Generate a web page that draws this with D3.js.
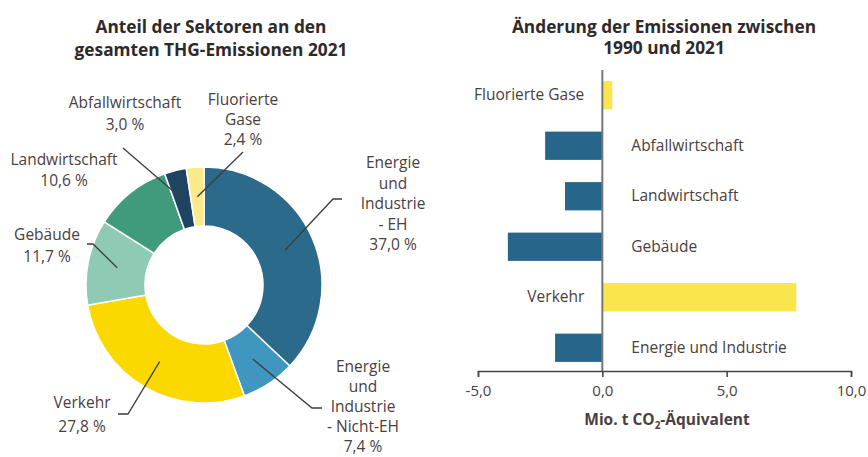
<!DOCTYPE html>
<html>
<head>
<meta charset="utf-8">
<script src="https://cdn.jsdelivr.net/npm/d3@7/dist/d3.min.js"></script>
<style>
  body { margin: 0; background: #fff; }
  svg { display: block; font-family: 'Open Sans', sans-serif; }
  .lbl { fill: #4a4040; font-size: 15.5px; }
  .title { fill: #2f2a2a; font-size: 17.3px; font-weight: bold; }
</style>
</head>
<body>
<svg id="chart"></svg>
<script>
// Donut: share of sectors 2021 (%)
const pieSectors = ['Energie und Industrie - EH', 'Energie und Industrie - Nicht-EH', 'Verkehr',
  'Gebäude', 'Landwirtschaft', 'Abfallwirtschaft', 'Fluorierte Gase'];
const pieShares = [37.0, 7.4, 27.8, 11.7, 10.6, 3.0, 2.4];
const pieLabels = [
  ['Energie', 'und', 'Industrie', '- EH', '37,0 %'],
  ['Energie', 'und', 'Industrie', '- Nicht-EH', '7,4 %'],
  ['Verkehr', '27,8 %'],
  ['Gebäude', '11,7 %'],
  ['Landwirtschaft', '10,6 %'],
  ['Abfallwirtschaft', '3,0 %'],
  ['Fluorierte', 'Gase', '2,4 %']
];

// Bars: change of emissions 1990 - 2021 (Mio. t CO2-Äquivalent)
const barSectors = ['Fluorierte Gase', 'Abfallwirtschaft', 'Landwirtschaft', 'Gebäude', 'Verkehr', 'Energie und Industrie'];
const barValues = [0.4, -2.3, -1.5, -3.8, 7.8, -1.9];
const xTicks = [-5, 0, 5, 10];

const W = 868, H = 457;
const svg = d3.select('#chart').attr('width', W).attr('height', H);

const pieColors = ['#2c6a8b', '#3f97c0', '#fbd900', '#8fcab4', '#3f9b7b', '#1d4562', '#fbe98a'];

// ---- left: donut
const cx = 204, cy = 285;
const outerR = 118, innerR = 59;

svg.append('text').attr('class', 'title').attr('text-anchor', 'middle')
  .selectAll('tspan').data(['Anteil der Sektoren an den', 'gesamten THG-Emissionen 2021'])
  .join('tspan').attr('x', 211).attr('y', (d, i) => 33 + i * 23).text(d => d);

const pie = d3.pie().sort(null).value(d => d)(pieShares);
const arc = d3.arc().innerRadius(innerR).outerRadius(outerR);

const donut = svg.append('g').attr('transform', `translate(${cx},${cy})`);
donut.selectAll('path').data(pie).join('path')
  .attr('d', arc)
  .attr('fill', (d, i) => pieColors[i])
  .attr('stroke', '#fff')
  .attr('stroke-width', 1.5);

// label placement (x centre, first baseline, line height) and leader elbow
const labelPos = [
  { x: 393, y: 168, lh: 20.5, lead: [[342, 199], [333, 199]] },
  { x: 363, y: 372, lh: 20, lead: [[322, 408], [312, 408]] },
  { x: 82, y: 408, lh: 24, lead: [[118, 414], [128, 414]] },
  { x: 47, y: 240, lh: 22, lead: [[87, 244], [93, 244]] },
  { x: 64, y: 165, lh: 20.5, lead: null },
  { x: 125, y: 108, lh: 22, lead: [[123, 148]] },
  { x: 243, y: 105, lh: 20, lead: [[243, 152]] }
];

const line = d3.line();
pie.forEach((d, i) => {
  const p = labelPos[i];
  if (p.lead) {
    const [mx, my] = arc.centroid(d);
    const pts = p.lead.concat([[cx + mx, cy + my]]);
    svg.append('path').attr('d', line(pts))
      .attr('fill', 'none').attr('stroke', '#3d3d3d').attr('stroke-width', 1.3);
  }
  svg.append('text').attr('class', 'lbl').attr('text-anchor', 'middle')
    .selectAll('tspan').data(pieLabels[i]).join('tspan')
    .attr('x', p.x).attr('y', (t, j) => p.y + j * p.lh).text(t => t);
});

// ---- right: bars
svg.append('text').attr('class', 'title').attr('text-anchor', 'middle')
  .selectAll('tspan').data(['Änderung der Emissionen zwischen', '1990 und 2021'])
  .join('tspan').attr('x', 664).attr('y', (d, i) => 33 + i * 21).text(d => d);

const x = d3.scaleLinear().domain([-5, 10]).range([478, 851]);
const y = d3.scaleBand().domain(barSectors).range([71, 372]).paddingInner(0.44).paddingOuter(0.2);

const bars = svg.append('g');
bars.selectAll('rect').data(barValues).join('rect')
  .attr('x', d => x(Math.min(0, d)))
  .attr('width', d => Math.abs(x(d) - x(0)))
  .attr('y', (d, i) => y(barSectors[i]))
  .attr('height', y.bandwidth())
  .attr('fill', d => d < 0 ? '#28658a' : '#f9e54c');

bars.selectAll('text').data(barValues).join('text')
  .attr('class', 'lbl')
  .attr('text-anchor', d => d < 0 ? 'start' : 'end')
  .attr('x', d => d < 0 ? x(0) + 29 : x(0) - 18)
  .attr('y', (d, i) => y(barSectors[i]) + y.bandwidth() / 2 + 5)
  .text((d, i) => barSectors[i]);

// zero line
svg.append('line')
  .attr('x1', x(0)).attr('x2', x(0)).attr('y1', 70).attr('y2', 372)
  .attr('stroke', '#777').attr('stroke-width', 2);

// x axis
const axis = svg.append('g').attr('transform', 'translate(0,371)')
  .call(d3.axisBottom(x).tickValues(xTicks).tickSize(6).tickPadding(8)
    .tickFormat(d => d3.format('.1f')(d).replace('.', ',').replace('\u2212', '-')));
axis.select('.domain').attr('stroke', '#444').attr('stroke-width', 1.5);
axis.selectAll('.tick line').attr('stroke', '#444').attr('stroke-width', 1.5);
axis.selectAll('.tick text').attr('fill', '#4a4040').style('font-size', '15px')
  .style('font-family', "'Open Sans', sans-serif");

const xt = svg.append('text').attr('class', 'lbl').attr('text-anchor', 'middle')
  .attr('x', 667).attr('y', 425).style('font-weight', 'bold').style('font-size', '15.5px');
xt.append('tspan').text('Mio. t CO');
xt.append('tspan').text('2').attr('dy', 4).style('font-size', '10px');
xt.append('tspan').text('-Äquivalent').attr('dy', -4);
</script>
</body>
</html>
